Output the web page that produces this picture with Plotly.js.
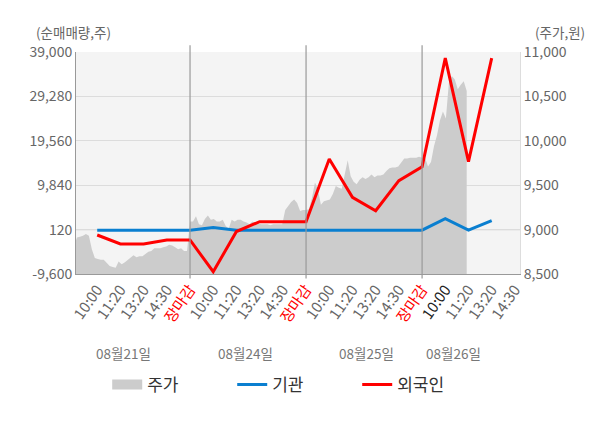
<!DOCTYPE html>
<html>
<head>
<meta charset="utf-8">
<script src="https://cdn.plot.ly/plotly-3.0.1.min.js"></script>
<style>
  body { margin: 0; background: #fff; }
  #chart { width: 600px; height: 428px; }
</style>
</head>
<body>
<div id="chart"></div>
<script>
// 날짜 / 시간대
const days = ['08월21일', '08월24일', '08월25일', '08월26일'];
const tickLabels = [
  '10:00', '11:20', '13:20', '14:30', '장마감',
  '10:00', '11:20', '13:20', '14:30', '장마감',
  '10:00', '11:20', '13:20', '14:30', '장마감',
  '10:00', '11:20', '13:20', '14:30'
];

// 순매매량 (주)
const institution = [0, 0, 0, 0, 0, 600, 0, 0, 0, 0, 0, 0, 0, 0, 0, 2500, 0, 2100];
const foreign = [-1060, -3030, -3030, -2150, -2150, -9100, -300, 1850, 1850, 1850,
  15580, 7190, 4260, 10830, 13890, 37650, 15000, 37650];

// 주가 (원), 10분 간격
const price21 = [8820, 8910, 8920, 8930, 8950, 8930, 8780, 8680, 8670, 8660,
  8660, 8630, 8590, 8580, 8570, 8640, 8610, 8630, 8660, 8680,
  8710, 8690, 8700, 8700, 8730, 8750, 8760, 8790, 8790, 8790,
  8800, 8810, 8830, 8820, 8800, 8780, 8790, 8760, 8760];
const price24 = [9090, 9090, 9150, 9060, 9050, 9120, 9160, 9110, 9120, 9090,
  9090, 9110, 9040, 9010, 9110, 9090, 9110, 9110, 9090, 9080,
  9060, 9090, 9070, 9070, 9060, 9060, 9060, 9050, 9060, 9060,
  9060, 9060, 9220, 9270, 9310, 9340, 9300, 9210, 9220];
const price25 = [9220, 9230, 9360, 9530, 9450, 9280, 9320, 9330, 9340, 9400,
  9490, 9470, 9460, 9620, 9780, 9600, 9540, 9510, 9560, 9590,
  9570, 9590, 9620, 9590, 9610, 9610, 9620, 9660, 9690, 9700,
  9700, 9710, 9750, 9800, 9800, 9810, 9810, 9810, 9820];
const price26 = [9810, 9810, 9710, 9760, 9940, 10060, 10230, 10330, 10250, 10650,
  10730, 10690, 10580, 10630, 10670, 10560];

const leftTicks = [-9600, 120, 9840, 19560, 29280, 39000];

const SLOTS = 5;      // 하루 칸 수
const SAMPLES = 39;   // 하루 가격 샘플 수 (09:00~15:20)

// 가격 x 위치
let px = [], py = [];
[price21, price24, price25, price26].forEach(function (arr, d) {
  arr.forEach(function (v, i) {
    px.push(d * SLOTS + i * SLOTS / SAMPLES);
    py.push(v);
  });
});

let flowX = institution.map(function (_, i) { return i + 1; });
let tickVals = tickLabels.map(function (_, i) { return i + 1; });
let tickText = tickLabels.map(function (t, i) {
  if (t === '장마감') return '<span style="color:#ff0000">' + t + '</span>';
  if (i === 15) return '<span style="color:#222">' + t + '</span>';
  return t;
});

let traces = [
  {
    x: px, y: py, name: '주가', showlegend: false,
    type: 'scatter', mode: 'lines',
    line: { width: 0, color: '#cccccc' },
    fill: 'tozeroy', fillcolor: '#cccccc',
    hoverinfo: 'skip'
  },
  // 범례용
  {
    x: [null], y: [null], name: '주가', yaxis: 'y2',
    type: 'scatter', mode: 'lines',
    line: { color: '#cccccc', width: 14 }
  },
  {
    x: flowX, y: institution, name: '기관', yaxis: 'y2',
    type: 'scatter', mode: 'lines',
    line: { color: '#0a7fd0', width: 3 }
  },
  {
    x: flowX, y: foreign, name: '외국인', yaxis: 'y2',
    type: 'scatter', mode: 'lines',
    line: { color: '#ff0000', width: 3 }
  }
];

let shapes = [5, 10, 15].map(function (v) {
  return {
    type: 'line', xref: 'x', yref: 'paper', x0: v, x1: v, y0: -0.02, y1: 1.03,
    line: { color: '#999', width: 1.2 }, layer: 'above'
  };
});
shapes.push({
  type: 'line', xref: 'paper', yref: 'y', x0: 0, x1: 1, y0: 9000, y1: 9000,
  line: { color: '#999', width: 1 }, layer: 'between'
});

let annotations = [
  { text: '(순매매량,주)', xref: 'paper', yref: 'paper', x: -0.095, y: 1.09, xanchor: 'left', yanchor: 'middle', showarrow: false, font: { size: 13.5, color: '#666' } },
  { text: '(주가,원)', xref: 'paper', yref: 'paper', x: 1.09, y: 1.09, xanchor: 'center', yanchor: 'middle', showarrow: false, font: { size: 13.5, color: '#666' } }
];
const dayPos = [2.15, 7.4, 12.6, 16.35];
days.forEach(function (d, i) {
  annotations.push({
    text: d, xref: 'x', yref: 'paper', x: dayPos[i], y: -0.355,
    xanchor: 'center', yanchor: 'middle', showarrow: false,
    font: { size: 13.5, color: '#777' }
  });
});

let layout = {
  width: 600, height: 428,
  margin: { l: 76, r: 80, t: 52, b: 154 },
  paper_bgcolor: '#fff', plot_bgcolor: '#f4f4f4',
  font: { family: '"Noto Sans CJK KR", "Noto Sans", sans-serif', color: '#666' },
  showlegend: true,
  legend: {
    orientation: 'h', x: 0.4926, xanchor: 'center', y: -0.5, yanchor: 'middle',
    font: { size: 17, color: '#333' }, entrywidth: 80, traceorder: 'normal'
  },
  xaxis: {
    range: [0.086, 19.22], tickvals: tickVals, ticktext: tickText,
    tickangle: -55, tickfont: { size: 15, color: '#666' },
    showgrid: false, zeroline: false, showline: true, linecolor: '#999', ticks: ''
  },
  // 주가 축 (오른쪽)
  yaxis: {
    side: 'right', range: [8500, 11000], dtick: 500,
    tickformat: ',d', tickfont: { size: 14, color: '#666' },
    gridcolor: '#dcdcdc', zeroline: false, showline: true, linecolor: '#ddd', ticks: ''
  },
  // 순매매량 축 (왼쪽)
  yaxis2: {
    overlaying: 'y', side: 'left', range: [-9600, 39000], tickvals: leftTicks,
    ticktext: leftTicks.map(function (v) { return v.toLocaleString('en-US'); }),
    tickfont: { size: 14, color: '#666' },
    showgrid: false, zeroline: false, showline: true, linecolor: '#999', ticks: ''
  },
  shapes: shapes,
  annotations: annotations
};

Plotly.newPlot('chart', traces, layout, { displayModeBar: false, staticPlot: true });
</script>
</body>
</html>
